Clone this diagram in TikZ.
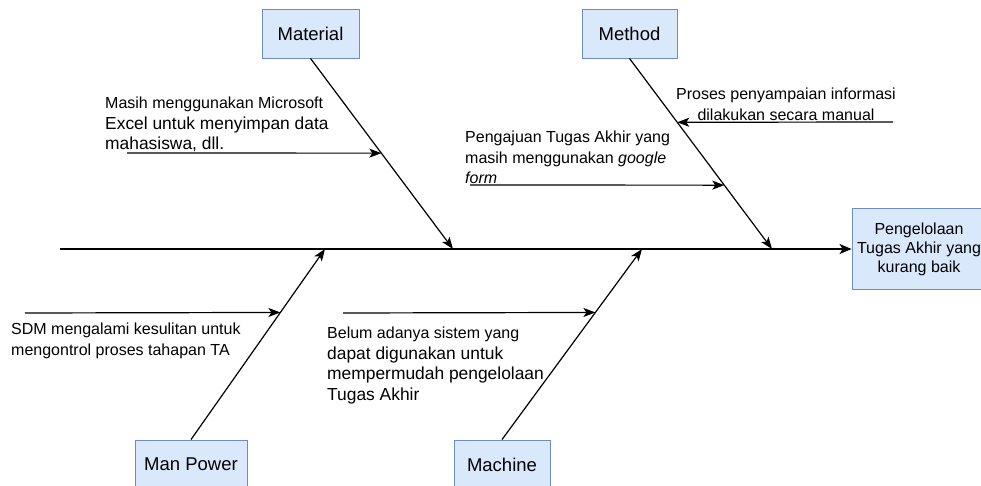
\documentclass[tikz,border=0pt]{standalone}
\usepackage{fontspec}
\setmainfont{Liberation Sans}
\usetikzlibrary{arrows.meta,calc}
\definecolor{boxfill}{HTML}{DAE8FC}
\definecolor{boxdraw}{HTML}{6C8EBF}
\tikzset{
  catbox/.style={draw=boxdraw,fill=boxfill,line width=0.9pt,inner sep=0pt,
    font=\fontsize{18.5}{22}\selectfont},
  arr/.style={line width=1.2pt,-{Stealth[length=12pt,width=9pt,inset=3pt]}},
  mainarr/.style={line width=1.6pt,-{Stealth[length=12pt,width=10pt,inset=3pt]}},
  txt/.style={inner sep=0pt,font=\fontsize{16}{20.5}\selectfont},
}
\newcommand{\bigline}[1]{{\fontsize{17.4}{20.5}\selectfont #1}}
\begin{document}
\begin{tikzpicture}[x=1pt,y=-1pt]
\useasboundingbox (0,0) rectangle (981,486);
\clip (0,0) rectangle (981,486);
\fill[white] (0,0) rectangle (981,486);

% category boxes
\node[catbox,minimum width=97pt,minimum height=49pt] (mat) at (310.5,33.5) {Material};
\node[catbox,minimum width=95pt,minimum height=49pt] (meth) at (629.5,33.5) {Method};
\node[catbox,minimum width=112pt,minimum height=49pt] (mp) at (191,464.5) {Man Power};
\node[catbox,minimum width=96pt,minimum height=49pt] (mach) at (502,464.5) {Machine};
\node[catbox,minimum width=134pt,minimum height=81pt,align=center,
  font=\fontsize{16}{19}\selectfont] (eff) at (919,249)
  {Pengelolaan\\Tugas Akhir yang\\kurang baik};

% spine
\coordinate (spS) at (60,249);
\draw[mainarr] (spS) -- (eff.west);

% branch tips on the spine
\coordinate (matT) at (453,249);
\coordinate (methT) at (772,249);
\coordinate (mpT) at (325,249);
\coordinate (machT) at (642,249);

\draw[arr] (mat.south) -- (matT);
\draw[arr] (meth.south) -- (methT);
\draw[arr] (mp.north) -- (mpT);
\draw[arr] (mach.north) -- (machT);

% cause arrows
\coordinate (c1) at (127,153);
\draw[arr] (c1) -- ($(mat.south)!0.497!(matT)$);
\coordinate (c2) at (893,122);
\draw[arr] (c2) -- ($(meth.south)!0.335!(methT)$);
\coordinate (c3) at (470,185);
\draw[arr] (c3) -- ($(meth.south)!0.665!(methT)$);
\coordinate (c4) at (25,313);
\draw[arr] (c4) -- ($(mp.north)!0.667!(mpT)$);
\coordinate (c5) at (343,313);
\draw[arr] (c5) -- ($(mach.north)!0.667!(machT)$);

% cause texts
\node[txt,align=left,anchor=north west] (t1) at (105,97)
  {Masih menggunakan Microsoft\\\bigline{Excel untuk menyimpan data}\\\bigline{mahasiswa, dll.}};
\node[txt,align=center,anchor=north] (t2) at (786,88)
  {Proses penyampaian informasi\\dilakukan secara manual};
\node[txt,align=left,anchor=north west] (t3) at (465,131)
  {Pengajuan Tugas Akhir yang\\masih menggunakan \textit{google}\\\textit{form}};
\node[txt,align=left,anchor=north west] (t4) at (11,323)
  {SDM mengalami kesulitan untuk\\mengontrol proses tahapan TA};
\node[txt,align=left,anchor=north west] (t5) at (327,327)
  {Belum adanya sistem yang\\\bigline{dapat digunakan untuk}\\\bigline{mempermudah pengelolaan}\\\bigline{Tugas Akhir}};
\end{tikzpicture}
\end{document}
